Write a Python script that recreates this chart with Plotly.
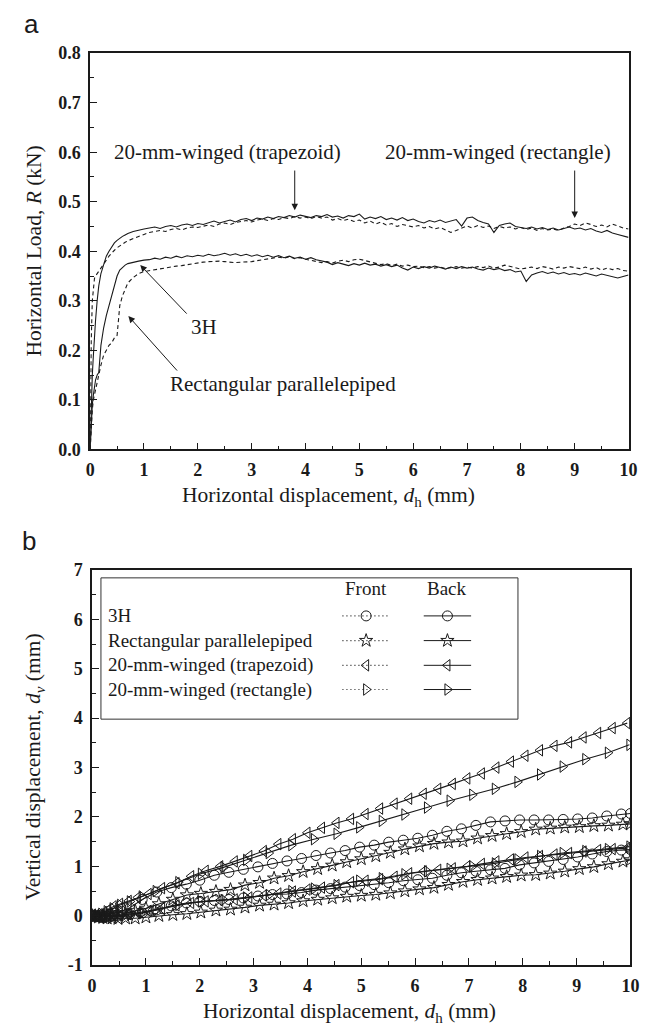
import plotly.graph_objects as go

# ---------------- Panel (a): horizontal load vs horizontal displacement ----------------
X_LOAD = [0.0, 0.01, 0.02, 0.04, 0.06, 0.08, 0.1, 0.13, 0.16, 0.2, 0.25, 0.3, 0.35, 0.4, 0.45,
          0.5, 0.55, 0.6, 0.65, 0.7, 0.8, 0.9, 1.0,
          1.1, 1.2, 1.3, 1.4, 1.5, 1.6, 1.7, 1.8, 1.9, 2.0,
          2.1, 2.2, 2.3, 2.4, 2.5, 2.6, 2.7, 2.8, 2.9, 3.0,
          3.1, 3.2, 3.3, 3.4, 3.5, 3.6, 3.7, 3.8, 3.9, 4.0,
          4.1, 4.2, 4.3, 4.4, 4.5, 4.6, 4.7, 4.8, 4.9, 5.0,
          5.1, 5.2, 5.3, 5.4, 5.5, 5.6, 5.7, 5.8, 5.9, 6.0,
          6.1, 6.2, 6.3, 6.4, 6.5, 6.6, 6.7, 6.8, 6.9, 7.0,
          7.1, 7.2, 7.3, 7.4, 7.5, 7.6, 7.7, 7.8, 7.9, 8.0,
          8.1, 8.2, 8.3, 8.4, 8.5, 8.6, 8.7, 8.8, 8.9, 9.0,
          9.1, 9.2, 9.3, 9.4, 9.5, 9.6, 9.7, 9.8, 9.9, 10.0]

LOAD_TRAPEZOID = [0.0, 0.05, 0.10, 0.15, 0.19, 0.23, 0.26, 0.30, 0.33, 0.355, 0.375, 0.39, 0.40, 0.41, 0.417,
                  0.422, 0.427, 0.430, 0.433, 0.436, 0.440, 0.443, 0.445,
                  0.447, 0.449, 0.446, 0.450, 0.452, 0.449, 0.453, 0.455, 0.452, 0.456,
                  0.454, 0.458, 0.461, 0.457, 0.460, 0.463, 0.459, 0.464, 0.466, 0.462,
                  0.467, 0.465, 0.469, 0.466, 0.470, 0.468, 0.472, 0.469, 0.473, 0.470,
                  0.468, 0.472, 0.470, 0.474, 0.469, 0.471, 0.467, 0.472, 0.470, 0.475,
                  0.465, 0.469, 0.466, 0.470, 0.464, 0.467, 0.463, 0.468, 0.462, 0.465,
                  0.460, 0.457, 0.462, 0.459, 0.463, 0.458, 0.461, 0.464, 0.451, 0.467,
                  0.469, 0.462, 0.458, 0.455, 0.438, 0.452, 0.455, 0.457, 0.450, 0.448,
                  0.446, 0.449, 0.445, 0.448, 0.444, 0.447, 0.443, 0.446, 0.449, 0.445,
                  0.447, 0.443, 0.446, 0.441, 0.438, 0.442, 0.437, 0.434, 0.431, 0.428]

LOAD_RECTANGLE = [0.0, 0.12, 0.22, 0.30, 0.33, 0.345, 0.35, 0.355, 0.36, 0.368, 0.375, 0.382, 0.39, 0.397, 0.402,
                  0.407, 0.411, 0.415, 0.418, 0.421, 0.426, 0.430, 0.434,
                  0.438, 0.440, 0.442, 0.440, 0.444, 0.446, 0.443, 0.447, 0.449, 0.448,
                  0.451, 0.453, 0.450, 0.455, 0.457, 0.454, 0.458, 0.460, 0.462, 0.459,
                  0.463, 0.465, 0.462, 0.466, 0.464, 0.468, 0.466, 0.470, 0.467, 0.469,
                  0.466, 0.470, 0.467, 0.469, 0.463, 0.466, 0.462, 0.465, 0.460, 0.463,
                  0.457, 0.461, 0.455, 0.459, 0.453, 0.456, 0.450, 0.454, 0.451, 0.449,
                  0.452, 0.447, 0.450, 0.445, 0.448, 0.443, 0.438, 0.442, 0.446, 0.451,
                  0.447, 0.452, 0.448, 0.451, 0.446, 0.450, 0.447, 0.449, 0.445, 0.448,
                  0.444, 0.447, 0.442, 0.446, 0.443, 0.445, 0.442, 0.447, 0.450, 0.455,
                  0.452, 0.457, 0.454, 0.450, 0.453, 0.449, 0.455, 0.451, 0.447, 0.445]

LOAD_3H = [0.0, 0.03, 0.06, 0.09, 0.11, 0.13, 0.14, 0.15, 0.155, 0.21, 0.245, 0.27, 0.29, 0.31, 0.333,
           0.35, 0.362, 0.368, 0.372, 0.375, 0.378, 0.380, 0.382,
           0.383, 0.386, 0.384, 0.388, 0.386, 0.390, 0.387, 0.391, 0.389, 0.392,
           0.390, 0.394, 0.391, 0.393, 0.396, 0.392, 0.395, 0.391, 0.394, 0.390,
           0.393, 0.389, 0.392, 0.388, 0.391, 0.387, 0.390, 0.386, 0.388, 0.384,
           0.387, 0.383, 0.381, 0.378, 0.373, 0.377, 0.374, 0.371, 0.375, 0.372,
           0.376, 0.372, 0.374, 0.370, 0.373, 0.369, 0.372, 0.366, 0.362, 0.368,
           0.365, 0.369, 0.366, 0.370, 0.367, 0.364, 0.368, 0.365, 0.369, 0.366,
           0.368, 0.364, 0.362, 0.366, 0.363, 0.365, 0.361, 0.363, 0.358, 0.360,
           0.339, 0.352, 0.356, 0.359, 0.355, 0.358, 0.354, 0.357, 0.353, 0.355,
           0.352, 0.356, 0.353, 0.350, 0.354, 0.351, 0.348, 0.346, 0.349, 0.352]

LOAD_PARALLELEPIPED = [0.0, 0.03, 0.06, 0.08, 0.10, 0.11, 0.12, 0.14, 0.155, 0.17, 0.19, 0.20, 0.21, 0.215, 0.225,
                       0.23, 0.29, 0.31, 0.325, 0.336, 0.347, 0.355, 0.359,
                       0.361, 0.363, 0.365, 0.366, 0.368, 0.370, 0.371, 0.373, 0.375, 0.377,
                       0.378, 0.379, 0.380, 0.380, 0.379, 0.378, 0.377, 0.378, 0.378, 0.379,
                       0.381, 0.383, 0.385, 0.386, 0.388, 0.386, 0.389, 0.385, 0.387, 0.384,
                       0.382, 0.380, 0.377, 0.379, 0.376, 0.380, 0.382, 0.379, 0.383, 0.384,
                       0.381, 0.378, 0.376, 0.373, 0.375, 0.371, 0.374, 0.370, 0.372, 0.369,
                       0.370, 0.367, 0.369, 0.366, 0.368, 0.365, 0.367, 0.369, 0.366, 0.368,
                       0.366, 0.369, 0.367, 0.370, 0.366, 0.368, 0.372, 0.369, 0.367, 0.364,
                       0.366, 0.368, 0.365, 0.369, 0.367, 0.364, 0.368, 0.366, 0.369, 0.367,
                       0.365, 0.368, 0.364, 0.367, 0.362, 0.366, 0.363, 0.365, 0.361, 0.360]

# ---------------- Panel (b): vertical vs horizontal displacement ----------------
X_CIRCLE = [0, 0.08, 0.16, 0.24, 0.32, 0.42, 0.55, 0.7, 0.93, 1.2,
            1.47, 1.75, 2.0, 2.27, 2.54, 2.81, 3.08, 3.35, 3.62, 3.89,
            4.16, 4.43, 4.7, 4.97, 5.24, 5.51, 5.78, 6.05, 6.32, 6.59,
            6.86, 7.13, 7.4, 7.67, 7.94, 8.21, 8.48, 8.75, 9.02, 9.29,
            9.56, 9.83, 10.0]
DV_3H_BACK = [0, 0.0, 0.01, 0.02, 0.03, 0.05, 0.09, 0.16, 0.33, 0.48,
              0.57, 0.64, 0.72, 0.82, 0.88, 0.94, 0.99, 1.06, 1.11, 1.16,
              1.22, 1.27, 1.32, 1.39, 1.43, 1.49, 1.53, 1.57, 1.63, 1.71,
              1.76, 1.83, 1.9, 1.92, 1.94, 1.94, 1.94, 1.95, 1.96, 1.98,
              2.02, 2.06, 2.07]
DV_3H_FRONT = [0, -0.02, -0.03, -0.02, -0.01, 0.0, 0.01, 0.03, 0.06, 0.12,
               0.2, 0.26, 0.29, 0.31, 0.33, 0.36, 0.4, 0.43, 0.44, 0.47,
               0.52, 0.55, 0.58, 0.61, 0.63, 0.67, 0.71, 0.73, 0.76, 0.82,
               0.87, 0.9, 0.93, 0.96, 1.03, 1.07, 1.1, 1.14, 1.19, 1.25,
               1.3, 1.33, 1.34]

X_STAR = [0, 0.06, 0.12, 0.2, 0.28, 0.37, 0.48, 0.62, 0.8, 1.0,
          1.24, 1.5, 1.76, 2.02, 2.3, 2.57, 2.84, 3.11, 3.38, 3.65,
          3.92, 4.19, 4.46, 4.73, 5.0, 5.27, 5.54, 5.81, 6.08, 6.35,
          6.62, 6.89, 7.16, 7.43, 7.7, 7.97, 8.24, 8.51, 8.78, 9.05,
          9.32, 9.59, 9.86, 10.0]
DV_PARA_BACK = [0, 0.0, -0.01, 0.0, 0.0, 0.01, 0.02, 0.05, 0.1, 0.15,
                0.24, 0.33, 0.42, 0.45, 0.49, 0.53, 0.62, 0.67, 0.76, 0.81,
                0.89, 0.95, 1.02, 1.09, 1.15, 1.21, 1.28, 1.35, 1.41, 1.46,
                1.49, 1.51, 1.57, 1.62, 1.66, 1.7, 1.75, 1.77, 1.79, 1.8,
                1.82, 1.83, 1.85, 1.86]
DV_PARA_FRONT = [0, -0.02, -0.03, -0.04, -0.05, -0.05, -0.06, -0.05, -0.05, -0.03,
                 0.0, 0.02, 0.04, 0.07, 0.11, 0.13, 0.17, 0.21, 0.23, 0.26,
                 0.3, 0.33, 0.36, 0.39, 0.41, 0.43, 0.46, 0.5, 0.54, 0.57,
                 0.63, 0.69, 0.73, 0.76, 0.79, 0.82, 0.83, 0.86, 0.9, 0.95,
                 0.99, 1.05, 1.1, 1.13]

X_TRAPEZOID = [0, 0.07, 0.14, 0.22, 0.3, 0.4, 0.52, 0.68, 0.85, 1.05,
               1.3, 1.57, 1.84, 2.11, 2.38, 2.65, 2.92, 3.19, 3.46, 3.73,
               4.0, 4.27, 4.54, 4.81, 5.08, 5.35, 5.62, 5.89, 6.16, 6.43,
               6.7, 6.97, 7.24, 7.51, 7.78, 8.05, 8.32, 8.59, 8.86, 9.13,
               9.4, 9.67, 9.94]
DV_TRAP_BACK = [0, 0.01, 0.03, 0.07, 0.12, 0.19, 0.24, 0.3, 0.37, 0.44,
                0.56, 0.66, 0.8, 0.91, 1.0, 1.1, 1.21, 1.31, 1.45, 1.55,
                1.68, 1.78, 1.88, 1.96, 2.06, 2.17, 2.27, 2.37, 2.47, 2.57,
                2.67, 2.78, 2.88, 3.0, 3.12, 3.24, 3.35, 3.44, 3.51, 3.61,
                3.7, 3.8, 3.9]
DV_TRAP_FRONT = [0, 0.0, -0.01, -0.01, 0.0, 0.0, 0.01, 0.03, 0.06, 0.1,
                 0.15, 0.21, 0.26, 0.29, 0.31, 0.33, 0.37, 0.41, 0.45, 0.49,
                 0.53, 0.57, 0.62, 0.68, 0.71, 0.74, 0.79, 0.86, 0.9, 0.93,
                 0.96, 1.0, 1.05, 1.1, 1.14, 1.18, 1.21, 1.24, 1.27, 1.3,
                 1.33, 1.35, 1.37]

X_RECT = [0, 0.08, 0.17, 0.27, 0.38, 0.52, 0.7, 0.92, 1.18, 1.6,
          2.02, 2.44, 2.86, 3.28, 3.7, 4.12, 4.54, 4.96, 5.38, 5.8,
          6.22, 6.64, 7.06, 7.48, 7.9, 8.32, 8.74, 9.16, 9.58, 9.98]
DV_RECT_BACK = [0, 0.01, 0.04, 0.09, 0.15, 0.22, 0.29, 0.39, 0.5, 0.68,
                0.85, 0.98, 1.13, 1.27, 1.43, 1.55, 1.66, 1.79, 1.92, 2.05,
                2.19, 2.33, 2.45, 2.57, 2.71, 2.86, 3.02, 3.17, 3.3, 3.46]
DV_RECT_FRONT = [0, -0.01, -0.02, -0.02, -0.01, 0.0, 0.02, 0.05, 0.11, 0.22,
                 0.29, 0.32, 0.37, 0.42, 0.5, 0.55, 0.62, 0.71, 0.76, 0.84,
                 0.9, 0.95, 1.0, 1.06, 1.14, 1.21, 1.27, 1.31, 1.35, 1.4]

SPECIMENS = ["3H", "Rectangular parallelepiped", "20-mm-winged (trapezoid)", "20-mm-winged (rectangle)"]
SYMBOLS = ["circle-open", "star-open", "triangle-left-open", "triangle-right-open"]
SERIES_B = [
    (X_CIRCLE, DV_3H_FRONT, DV_3H_BACK),
    (X_STAR, DV_PARA_FRONT, DV_PARA_BACK),
    (X_TRAPEZOID, DV_TRAP_FRONT, DV_TRAP_BACK),
    (X_RECT, DV_RECT_FRONT, DV_RECT_BACK),
]

W, H = 661, 1035
SERIF = "Liberation Serif, Times New Roman, serif"
SANS = "Liberation Sans, Arial, sans-serif"
INK = "#1a1a1a"


def px(x):
    return x / W


def py(y):
    return 1 - y / H


fig = go.Figure()

# panel (a) curves
fig.add_trace(go.Scatter(x=X_LOAD, y=LOAD_TRAPEZOID, mode="lines", xaxis="x", yaxis="y",
                         line=dict(color=INK, width=1.1)))
fig.add_trace(go.Scatter(x=X_LOAD, y=LOAD_RECTANGLE, mode="lines", xaxis="x", yaxis="y",
                         line=dict(color=INK, width=1.1, dash="4px,3px")))
fig.add_trace(go.Scatter(x=X_LOAD, y=LOAD_3H, mode="lines", xaxis="x", yaxis="y",
                         line=dict(color=INK, width=1.1)))
fig.add_trace(go.Scatter(x=X_LOAD, y=LOAD_PARALLELEPIPED, mode="lines", xaxis="x", yaxis="y",
                         line=dict(color=INK, width=1.1, dash="4px,3px")))

# panel (b) curves
for (xs, front, back), sym in zip(SERIES_B, SYMBOLS):
    for ys in (front, back):
        fig.add_trace(go.Scatter(
            x=xs, y=ys, mode="lines+markers", xaxis="x2", yaxis="y2",
            line=dict(color=INK, width=1.1),
            marker=dict(symbol=sym, size=10, color=INK, line=dict(width=1, color=INK)),
        ))

# panel (b) legend box with Front / Back columns
LEG_X0, LEG_X1, LEG_Y0, LEG_Y1 = 0.164, 7.91, 3.98, 6.84
LEG_TEXT_X = 0.255
LEG_ROWS = [6.07, 5.57, 5.07, 4.58]
LEG_HEAD_Y = 6.62
FRONT_X = (4.65, 5.09, 5.51)
BACK_X = (6.16, 6.60, 7.04)

shapes = [dict(type="rect", xref="x2", yref="y2", x0=LEG_X0, x1=LEG_X1, y0=LEG_Y0, y1=LEG_Y1,
               line=dict(color="#333", width=1), fillcolor="rgba(0,0,0,0)", layer="above")]
annotations = []
for row, name, sym in zip(LEG_ROWS, SPECIMENS, SYMBOLS):
    shapes.append(dict(type="line", xref="x2", yref="y2", x0=FRONT_X[0], x1=FRONT_X[2], y0=row, y1=row,
                       line=dict(color=INK, width=1.2, dash="1px,3px"), layer="above"))
    shapes.append(dict(type="line", xref="x2", yref="y2", x0=BACK_X[0], x1=BACK_X[2], y0=row, y1=row,
                       line=dict(color=INK, width=1), layer="above"))
    annotations.append(dict(x=LEG_TEXT_X, y=row, xref="x2", yref="y2", text=name, showarrow=False,
                            xanchor="left", yanchor="middle", font=dict(family=SERIF, size=19, color=INK)))
    fig.add_trace(go.Scatter(x=[FRONT_X[1], BACK_X[1]], y=[row, row], mode="markers",
                             xaxis="x2", yaxis="y2",
                             marker=dict(symbol=sym, size=10, color=INK, line=dict(width=1, color=INK))))
annotations.append(dict(x=FRONT_X[1], y=LEG_HEAD_Y, xref="x2", yref="y2", text="Front", showarrow=False,
                        xanchor="center", yanchor="middle", font=dict(family=SERIF, size=19, color=INK)))
annotations.append(dict(x=BACK_X[1], y=LEG_HEAD_Y, xref="x2", yref="y2", text="Back", showarrow=False,
                        xanchor="center", yanchor="middle", font=dict(family=SERIF, size=19, color=INK)))

# panel (a) callouts
LABEL_FONT = dict(family=SERIF, size=21, color=INK)
for x, y, label in [(2.56, 0.60, "20-mm-winged (trapezoid)"),
                    (7.58, 0.60, "20-mm-winged (rectangle)"),
                    (2.11, 0.248, "3H"),
                    (3.58, 0.131, "Rectangular parallelepiped")]:
    annotations.append(dict(x=x, y=y, xref="x", yref="y", text=label, showarrow=False,
                            xanchor="center", yanchor="middle", font=LABEL_FONT))
ARROWS = [
    (3.8, 0.483, 3.8, 0.566),
    (9.0, 0.467, 9.0, 0.566),
    (0.93, 0.372, 1.82, 0.271),
    (0.71, 0.269, 1.64, 0.156),
]
for hx, hy, tx, ty in ARROWS:
    annotations.append(dict(x=hx, y=hy, ax=tx, ay=ty, xref="x", yref="y", axref="x", ayref="y",
                            text="", showarrow=True, arrowhead=2, arrowsize=1.3, arrowwidth=1,
                            arrowcolor=INK))

# panel letters and axis titles
TITLE_FONT = dict(family=SERIF, size=21.5, color=INK)
X_TITLE = "Horizontal displacement, <i>d</i><sub>h</sub> (mm)"
for x, y, text, font, angle in [
    (27, 14, "a", dict(family=SANS, size=26, color=INK), 0),
    (25, 541, "b", dict(family=SANS, size=26, color=INK), 0),
    (331, 496, X_TITLE, TITLE_FONT, 0),
    (352, 1022, X_TITLE, TITLE_FONT, 0),
    (30, 246, "Horizontal Load, <i>R</i> (kN)", TITLE_FONT, -90),
    (30, 772, "Vertical displacement, <i>d<sub>v</sub></i> (mm)", TITLE_FONT, -90),
]:
    annotations.append(dict(x=px(x), y=py(y), xref="paper", yref="paper", text=text, showarrow=False,
                            xanchor="center", yanchor="middle", textangle=angle, font=font))

TICK_FONT = dict(family=SERIF, size=18, color=INK, weight="bold")
AXIS_COMMON = dict(showline=True, linecolor=INK, linewidth=1.5, mirror=True, ticks="inside",
                   tickcolor=INK, tickwidth=1.3, ticklen=7, showgrid=False, zeroline=False,
                   tickfont=TICK_FONT, fixedrange=True)
MINOR = dict(ticks="inside", ticklen=4, tickcolor=INK, tickwidth=1.3)

X_TICKS = [0, 1, 2, 3, 4, 5, 6, 7, 8, 9, 10]
Y_TICKS_B = [-1, 0, 1, 2, 3, 4, 5, 6, 7]

fig.update_layout(
    width=W, height=H, margin=dict(l=0, r=0, t=0, b=0),
    paper_bgcolor="white", plot_bgcolor="white", showlegend=False,
    xaxis=dict(domain=[px(87), px(637)], range=[0, 10], anchor="y", tickvals=X_TICKS,
               minor=dict(dtick=0.5, **MINOR), ticklabelstandoff=3, **AXIS_COMMON),
    yaxis=dict(domain=[py(448), py(44)], range=[0, 0.8], anchor="x", dtick=0.1, tick0=0,
               tickformat=".1f", minor=dict(dtick=0.05, **MINOR), ticklabelstandoff=4, **AXIS_COMMON),
    xaxis2=dict(domain=[px(89), px(639)], range=[0, 10], anchor="y2", tickvals=X_TICKS,
                minor=dict(dtick=0.5, **MINOR), ticklabelstandoff=3, **AXIS_COMMON),
    yaxis2=dict(domain=[py(974), py(571)], range=[-1, 7], anchor="x2", tickvals=Y_TICKS_B,
                ticktext=[str(v) for v in Y_TICKS_B],
                minor=dict(dtick=0.5, **MINOR), ticklabelstandoff=4, **AXIS_COMMON),
    shapes=shapes,
    annotations=annotations,
)

fig.write_html("out.html")
